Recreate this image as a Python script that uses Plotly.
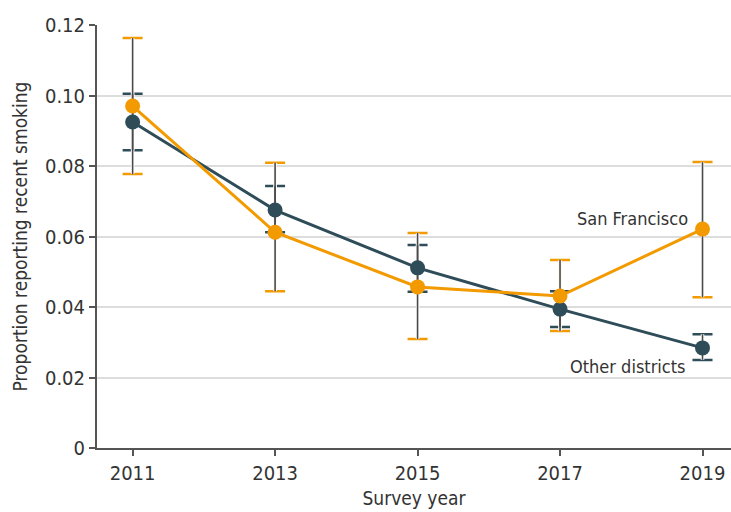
import plotly.graph_objects as go

years = [2011, 2013, 2015, 2017, 2019]
sf_values = [0.0970, 0.0612, 0.0457, 0.0431, 0.0621]
sf_upper = [0.1163, 0.0809, 0.0610, 0.0533, 0.0811]
sf_lower = [0.0777, 0.0445, 0.0309, 0.0332, 0.0428]
od_values = [0.0925, 0.0675, 0.0511, 0.0394, 0.0284]
od_upper = [0.1005, 0.0743, 0.0576, 0.0445, 0.0323]
od_lower = [0.0845, 0.0612, 0.0443, 0.0343, 0.0250]
y_ticks = [0, 0.02, 0.04, 0.06, 0.08, 0.10, 0.12]
y_ticklabels = ["0", "0.02", "0.04", "0.06", "0.08", "0.10", "0.12"]

ORANGE = "#F39A00"
DARK = "#2F4D59"
STEM = "#4A4A4A"
TEXT = "#333333"
FONT = "DejaVu Sans Condensed"

fig = go.Figure()


def err_trace(vals, up, lo, color, thickness, width):
    plus = [u - v for u, v in zip(up, vals)]
    minus = [v - l for l, v in zip(lo, vals)]
    fig.add_trace(go.Scatter(x=years, y=vals, mode="markers", marker=dict(size=1, opacity=0),
                             error_y=dict(type="data", symmetric=False, array=plus, arrayminus=minus,
                                          color=color, thickness=thickness, width=width),
                             showlegend=False, hoverinfo="skip"))


# coloured caps
err_trace(od_values, od_upper, od_lower, DARK, 2.5, 10)
err_trace(sf_values, sf_upper, sf_lower, ORANGE, 2.5, 10)
# erase coloured stems
err_trace(od_values, od_upper, od_lower, "white", 3.5, 0)
err_trace(sf_values, sf_upper, sf_lower, "white", 3.5, 0)
# grey stems
err_trace(od_values, od_upper, od_lower, STEM, 1.6, 0)
err_trace(sf_values, sf_upper, sf_lower, STEM, 1.6, 0)

fig.add_trace(go.Scatter(x=years, y=od_values, mode="lines+markers", name="Other districts",
                         line=dict(color=DARK, width=3), marker=dict(color=DARK, size=15),
                         showlegend=False))
fig.add_trace(go.Scatter(x=years, y=sf_values, mode="lines+markers", name="San Francisco",
                         line=dict(color=ORANGE, width=3), marker=dict(color=ORANGE, size=15),
                         showlegend=False))

fig.add_annotation(x=2018.02, y=0.065, text="San Francisco", showarrow=False,
                   font=dict(family=FONT, size=18, color=TEXT))
fig.add_annotation(x=2017.95, y=0.023, text="Other districts", showarrow=False,
                   font=dict(family=FONT, size=18, color=TEXT))

fig.update_layout(
    width=731, height=512,
    margin=dict(l=97, r=0, t=25, b=64),
    paper_bgcolor="white", plot_bgcolor="white",
    font=dict(family=FONT, size=18, color=TEXT),
    xaxis=dict(range=[2010.5, 2019.4], tickvals=years, ticktext=[str(y) for y in years],
               showgrid=False, zeroline=False, showline=True, linecolor="#555555", linewidth=2,
               ticks="outside", ticklen=6, tickcolor="#555555", tickwidth=1.5,
               tickfont=dict(family=FONT, size=20, color=TEXT),
               title=dict(text="Survey year", standoff=8, font=dict(family=FONT, size=19, color=TEXT)),
               automargin=False, fixedrange=True),
    yaxis=dict(range=[0, 0.12], tickvals=y_ticks, ticktext=y_ticklabels,
               showgrid=True, gridcolor="#DDDDDD", gridwidth=1.5, zeroline=False,
               showline=True, linecolor="#555555", linewidth=2,
               ticks="outside", ticklen=6, tickcolor="#555555", tickwidth=1.5,
               tickfont=dict(family=FONT, size=20, color=TEXT),
               title=dict(text="Proportion reporting recent smoking", standoff=12,
                          font=dict(family=FONT, size=19, color=TEXT)),
               automargin=False, fixedrange=True),
)

fig.write_html("out.html", config={"displayModeBar": False},
               post_script="document.body.style.margin='0';")
